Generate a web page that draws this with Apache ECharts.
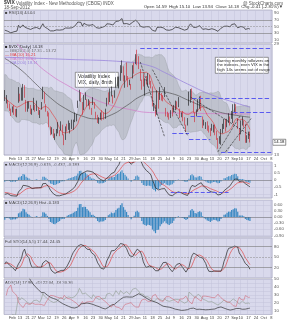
<!DOCTYPE html>
<html><head><meta charset="utf-8">
<script src="https://cdn.jsdelivr.net/npm/echarts@6/dist/echarts.min.js"></script>
<style>html,body{margin:0;padding:0;background:#fff}#c{width:287px;height:320px}</style>
</head><body><div id="c"></div>
<script>
// ---- calendar (trading days shown on the axis) ----
const holidays = ['2012-02-20','2012-04-06','2012-05-28','2012-07-04','2012-09-03'];
const monthNames = ['Jan','Feb','Mar','Apr','May','Jun','Jul','Aug','Sep','Oct','Nov','Dec'];
// ---- warm-up closes (Jan 2012) used only for indicator history ----
const priorCloses = [22.97,22.22,21.48,20.63,21.07,20.69,21.05,20.47,20.91,22.20,20.89,19.87,18.28,19.91,18.76,18.31,18.57,18.53];
// ---- daily VIX candles [open, close, low, high], 30-Jan-2012 .. 18-Sep-2012 ----
const ohlc = [
[19.90,19.44,18.95,20.55],[19.20,19.44,18.60,19.80],[18.90,18.55,17.95,19.10],[18.20,17.98,17.60,18.60],[17.40,17.10,16.95,17.90],
[17.90,17.63,17.40,18.20],[17.80,17.55,17.10,18.40],[17.60,17.00,16.90,17.85],[17.20,17.55,16.80,17.90],[18.90,20.79,18.70,21.00],
[19.80,19.04,18.90,20.00],[19.70,19.54,19.00,20.90],[19.30,21.14,19.00,21.50],[20.80,19.55,19.40,21.30],[18.90,17.78,17.50,19.10],
[18.40,18.19,17.50,18.90],[18.50,18.19,17.90,18.90],[18.00,17.31,17.20,18.40],[17.60,17.31,17.10,17.90],[18.30,18.19,17.70,19.40],
[18.10,17.95,17.50,18.40],[17.70,18.43,17.60,19.00],[17.90,17.26,17.10,18.10],[17.40,17.29,16.70,17.70],[18.20,18.05,17.80,18.80],
[19.30,20.87,19.20,21.06],[20.10,18.80,18.60,20.30],[18.30,17.95,17.50,18.50],[17.30,17.11,16.90,17.60],[17.30,15.64,15.60,17.40],
[15.50,14.80,14.70,15.70],[14.90,15.31,14.80,15.60],[15.20,14.47,14.40,15.40],[14.60,14.47,14.20,14.90],[15.20,15.04,14.60,15.40],
[15.80,15.13,14.90,16.20],[14.90,14.82,14.60,15.30],[15.70,15.57,15.20,16.30],[15.60,14.82,14.70,15.90],[14.50,14.26,13.66,14.80],
[14.40,15.59,14.20,15.70],[15.30,15.47,15.10,16.00],[15.80,15.48,15.30,16.40],[15.40,15.50,14.90,16.10],[15.80,15.64,15.40,16.50],
[15.40,16.12,15.30,16.50],[17.00,16.44,16.20,17.40],[16.90,16.70,16.30,17.20],[18.20,18.81,18.00,19.00],[19.00,20.39,18.90,20.60],
[19.80,19.40,18.80,20.20],[18.60,17.20,17.10,18.80],[17.90,19.55,17.70,19.80],[19.60,19.55,19.10,20.20],[18.80,18.46,18.20,19.20],
[18.80,18.64,18.30,19.20],[18.40,18.36,17.80,19.00],[17.60,17.44,17.10,18.00],[18.60,18.97,18.40,19.50],[18.60,18.10,17.90,18.80],
[17.40,16.82,16.60,17.50],[16.90,16.24,16.10,17.10],[16.40,16.32,16.00,16.80],[16.70,17.15,16.50,17.40],[17.10,16.88,16.40,17.70],
[17.10,16.80,16.50,17.40],[16.70,17.56,16.60,17.90],[18.30,19.16,18.20,19.40],[19.30,18.94,18.50,20.20],[19.70,19.05,18.80,20.80],
[20.30,20.08,19.60,21.10],[19.40,18.83,18.60,19.80],[20.20,19.89,19.40,20.50],[21.00,21.87,20.90,22.60],[21.60,21.97,21.10,22.70],
[21.20,22.27,20.80,22.70],[22.20,24.49,22.00,24.70],[24.00,25.10,23.30,25.60],[24.00,22.01,21.90,24.50],[21.60,22.48,20.90,22.90],
[23.60,22.33,22.10,25.20],[22.00,21.54,21.00,22.80],[21.70,21.76,21.30,22.20],[21.30,21.03,20.60,21.50],[22.50,24.14,22.40,24.70],
[24.00,24.06,23.20,25.20],[25.70,26.66,24.90,26.80],[26.20,26.12,24.70,27.70],[25.60,24.68,24.00,26.40],[23.40,22.16,22.00,24.00],
[21.40,21.72,20.60,22.20],[22.80,21.23,21.10,23.10],[19.90,22.09,19.70,22.40],[22.40,21.68,21.40,22.80],[21.80,22.52,21.10,23.30],
[22.00,21.68,21.40,23.00],[21.50,21.11,20.80,22.00],[20.70,18.32,18.20,21.10],[18.00,18.38,17.60,18.70],[18.30,17.24,16.90,18.40],
[17.20,20.08,17.10,20.50],[19.90,18.11,17.90,20.10],[19.20,20.11,19.10,21.00],[19.60,19.72,19.00,20.10],[19.50,19.45,18.90,19.80],
[20.30,19.71,19.50,21.00],[17.90,17.08,16.90,18.00],[17.20,17.07,16.80,17.50],[17.10,16.66,16.50,17.30],[17.20,17.50,16.70,17.70],
[17.70,17.10,16.90,18.10],[17.70,17.98,17.40,18.40],[17.90,18.72,17.70,19.00],[18.50,17.95,17.80,18.90],[19.20,18.33,18.10,19.50],
[17.80,16.74,16.70,17.90],[16.90,17.11,16.80,17.40],[17.30,16.48,16.30,17.60],[16.50,16.00,15.80,16.80],[15.60,15.45,15.10,15.90],
[16.10,16.27,15.80,16.70],[18.80,18.62,18.30,20.30],[18.90,20.47,18.70,20.70],[20.00,19.34,19.10,20.80],[18.80,17.53,17.40,19.00],
[17.10,16.70,16.20,17.40],[17.20,17.57,16.90,17.80],[17.70,18.93,17.50,19.20],[18.60,18.96,17.90,19.60],[19.00,17.96,17.60,19.70],
[16.60,15.64,15.50,16.90],[16.20,15.95,15.80,16.50],[15.70,15.99,15.40,16.20],[16.20,15.32,15.20,16.30],[15.60,15.28,15.00,15.80],
[15.40,14.74,14.60,15.50],[15.30,15.64,15.20,16.00],[15.40,15.75,15.00,15.90],[15.70,14.85,14.70,15.90],[15.00,14.29,14.20,15.20],
[14.30,13.45,13.30,14.40],[14.10,14.02,13.80,14.60],[14.00,15.11,13.70,15.40],[15.40,15.39,14.90,16.00],[15.60,16.27,15.40,16.60],
[16.40,15.18,15.10,16.60],[16.00,16.35,15.60,16.60],[16.70,16.44,16.10,17.30],[16.50,15.90,15.80,16.90],[16.80,17.46,16.60,17.60],
[17.50,17.47,16.10,18.50],[18.30,17.98,17.40,18.60],[17.90,17.74,17.20,18.50],[16.60,15.60,15.40,16.70],[15.40,14.38,14.10,15.50],
[14.90,16.28,14.80,16.40],[16.00,16.41,15.80,16.90],[16.20,15.80,15.60,16.40],[15.80,14.05,13.90,16.00],[14.20,14.51,13.90,14.70],
[14.70,14.59,14.30,15.10],[14.70,14.18,13.94,15.10]
];
// ---- long moving averages [dayIndex, value] ----
const ma50Pts  = [[0,26.0],[10,24.0],[20,21.6],[30,19.4],[40,17.9],[50,17.0],[60,16.6],[70,17.1],[80,18.3],[90,19.7],[100,20.3],[110,20.0],[120,19.1],[130,18.2],[140,17.5],[150,17.1],[161,16.8]];
const ma100Pts = [[8,29.0],[19,25.5],[30,23.0],[41,21.3],[55,19.6],[69,18.4],[82,17.8],[95,17.4],[120,17.3],[161,17.2]];
const ma200Pts = [[0,26.2],[40,25.8],[80,25.3],[95,24.6],[105,23.4],[120,21.5],[135,19.9],[150,18.8],[161,18.1]];
// ---- drawn annotations: trendlines [[idx,val],[idx,val]] and levels [fromIdx,toIdx,val] ----
const trendLines = [[[89,25.3],[105,14.5]],[[97,23.9],[120,14.7]],[[122,19.5],[161,14.7]],[[140,13.0],[155,17.1]],[[145,13.0],[162,16.7]]];
const levelLines = [[89,175,28.1],[123,175,19.4],[150,175,17.4],[122,130,16.9],[110,121,14.9],[121,135,14.3],[142,175,13.0]];
const macdLevel = [109,147,-0.85];

// ---------- build dates ----------
const dates = [];
{ let t = Date.UTC(2012,0,30); const end = Date.UTC(2012,9,8);
  while (t <= end) { const d = new Date(t); const wd = d.getUTCDay(); const s = d.toISOString().slice(0,10);
    if (wd>0 && wd<6 && !holidays.includes(s)) dates.push(s); t += 86400000; } }
const labelMap = {};
{ let prevWeek = null, prevMonth = null;
  dates.forEach((s,i)=>{ const d = new Date(s+'T00:00:00Z'); const wk = Math.floor((d.getTime()/86400000 + 3)/7);
    if (wk !== prevWeek) { const m = d.getUTCMonth();
      if (i>0) labelMap[i] = (m !== prevMonth) ? monthNames[m] : String(d.getUTCDate());
      prevMonth = m; prevWeek = wk; } }); }
const isLab = (i)=> labelMap[i] !== undefined;

// ---------- indicators ----------
const closes = ohlc.map(r=>r[1]);
const allC = priorCloses.concat(closes);
const P = priorCloses.length, N = ohlc.length;
function sma(a,n){return a.map((v,i)=>{const s=Math.max(0,i-n+1);let t=0;for(let k=s;k<=i;k++)t+=a[k];return t/(i-s+1);});}
function sd(a,n){const m=sma(a,n);return a.map((v,i)=>{const s=Math.max(0,i-n+1);let t=0;for(let k=s;k<=i;k++)t+=(a[k]-m[i])**2;return Math.sqrt(t/(i-s+1));});}
function ema(a,n){const k=2/(n+1);let e=a[0];return a.map((v,i)=>{e=i===0?v:v*k+e*(1-k);return e;});}
const m20=sma(allC,20), s20=sd(allC,20);
const bbU=m20.map((m,i)=>m+2*s20[i]).slice(P), bbL=m20.map((m,i)=>m-2*s20[i]).slice(P);
const ma10=sma(allC,10).slice(P);
const e12=ema(allC,12), e26=ema(allC,26);
const macdAll=e12.map((v,i)=>v-e26[i]); const sigAll=ema(macdAll,9);
const macd=macdAll.slice(P), sig=sigAll.slice(P), hist=macd.map((v,i)=>v-sig[i]);
// RSI(14)
const rsiAll=[null]; {let ag=0,al=0;for(let i=1;i<allC.length;i++){const d=allC[i]-allC[i-1];const g=Math.max(d,0),l=Math.max(-d,0);
 if(i<=14){ag+=g/14;al+=l/14;}else{ag=(ag*13+g)/14;al=(al*13+l)/14;} rsiAll.push(al===0?100:100-100/(1+ag/al));}}
const rsi=rsiAll.slice(P);
// Full stochastic (14,5,5)
const rawK=ohlc.map((r,i)=>{const s=Math.max(0,i-13);let hh=-1e9,ll=1e9;for(let k=s;k<=i;k++){hh=Math.max(hh,ohlc[k][3]);ll=Math.min(ll,ohlc[k][2]);}return hh===ll?50:100*(r[1]-ll)/(hh-ll);});
const stK=sma(rawK,5), stD=sma(stK,5);
// ADX(14)
const pdi=[],mdi=[],adx=[];{let sTR=0,sP=0,sM=0,ax=null,cnt=0,sumDX=0;
 for(let i=0;i<N;i++){ if(i===0){pdi.push(null);mdi.push(null);adx.push(null);continue;}
  const [o,c,l,h]=ohlc[i], pc=ohlc[i-1][1], ph=ohlc[i-1][3], pl=ohlc[i-1][2];
  const tr=Math.max(h-l,Math.abs(h-pc),Math.abs(l-pc)); let up=h-ph, dn=pl-l;
  const pdm=(up>dn&&up>0)?up:0, mdm=(dn>up&&dn>0)?dn:0;
  if(i<=14){sTR+=tr;sP+=pdm;sM+=mdm;}else{sTR=sTR-sTR/14+tr;sP=sP-sP/14+pdm;sM=sM-sM/14+mdm;}
  const p=100*sP/sTR, m=100*sM/sTR; const dx=(p+m)===0?0:100*Math.abs(p-m)/(p+m);
  cnt++; if(cnt<=14){sumDX+=dx;ax=sumDX/cnt;}else{ax=(ax*13+dx)/14;}
  pdi.push(p);mdi.push(m);adx.push(ax);} }

// ---------- chart ----------
const BG='#d9d9ec', GL='#c2c2da', FONT='Liberation Sans';
const L=4,R=15;
const gridsPos=[[10,33],[44,111],[162,36],[200,37],[238,40],[279,36]];
const grids=gridsPos.map(g=>({left:L,right:R,top:g[0],height:g[1],show:true,backgroundColor:BG,borderColor:'#8a8aa0',borderWidth:0.5}));
const xAxes=gridsPos.map((g,gi)=>({type:'category',gridIndex:gi,data:dates,boundaryGap:true,
  axisLine:{show:false},axisTick:{show:false},
  axisLabel:{show:gi===1||gi===5,interval:(i)=>isLab(i),formatter:(v,i)=>labelMap[i]||'',fontSize:4,color:'#444',margin:1.5,fontFamily:FONT},
  splitLine:{show:true,interval:(i)=>isLab(i),lineStyle:{color:GL,width:0.5}}}));
const lab={fontSize:4.3,color:'#555',margin:2,fontFamily:FONT};
const histMax=Math.max(...hist.map(Math.abs))*1.05;
const yAxes=[
 {gridIndex:0,position:'right',min:0,max:100,interval:10,axisLabel:{...lab,formatter:v=>(v%20===10)?v:''},splitLine:{show:false},axisLine:{show:false},axisTick:{show:false}},
 {gridIndex:1,type:'log',logBase:10,position:'right',min:12.7,max:28.9,axisLabel:{...lab,formatter:v=>Math.round(v)},splitLine:{show:true,lineStyle:{color:GL,width:0.5}},axisLine:{show:false},axisTick:{show:false}},
 {gridIndex:2,position:'right',min:-1.25,max:1.25,axisLabel:{...lab,showMinLabel:false,showMaxLabel:false},splitLine:{show:true,lineStyle:{color:GL,width:0.5}},axisLine:{show:false},axisTick:{show:false}},
 {gridIndex:3,position:'right',min:-histMax*20/17,max:histMax,axisLabel:{...lab,showMinLabel:false,showMaxLabel:false,formatter:v=>v.toFixed(2)},splitLine:{show:true,lineStyle:{color:GL,width:0.5}},axisLine:{show:false},axisTick:{show:false}},
 {gridIndex:4,position:'right',min:-10,max:105,interval:10,axisLabel:{...lab,formatter:v=>(v===20||v===50||v===80)?v:''},splitLine:{show:false},axisLine:{show:false},axisTick:{show:false}},
 {gridIndex:5,position:'right',min:5,max:50,interval:5,axisLabel:{...lab,formatter:v=>(v%10===0)?v:''},splitLine:{show:true,lineStyle:{color:GL,width:0.5}},axisLine:{show:false},axisTick:{show:false}}
];
const hline=(v,color,type,w)=>({yAxis:v,lineStyle:{color,type:type||'solid',width:w||0.6}});
const mlBase={silent:true,symbol:'none',label:{show:false}};
const candleData=ohlc.map((r,i)=>{const pc=i>0?ohlc[i-1][1]:r[1];const col=r[1]<pc?'#d01e2a':'#111';
  return {value:r,itemStyle:{color:col,borderColor:col,color0:col,borderColor0:col}};});
const toXY=(pts)=>pts.map(p=>[dates[p[0]],p[1]]);
const lineS=(xi,data,color,w,extra)=>Object.assign({type:'line',xAxisIndex:xi,yAxisIndex:xi,data,symbol:'none',lineStyle:{color,width:w},silent:true},extra||{});

const series=[
 lineS(0,rsi,'#222',0.7,{markLine:{...mlBase,data:[hline(70,'#777'),hline(30,'#777'),hline(50,'#888','dashed',0.5)]}}),
 {type:'custom',xAxisIndex:1,yAxisIndex:1,data:[0],silent:true,z:1,renderItem:(p,api)=>{
   const pts=[];for(let i=0;i<N;i++)pts.push(api.coord([dates[i],bbU[i]]));for(let i=N-1;i>=0;i--)pts.push(api.coord([dates[i],bbL[i]]));
   return {type:'polygon',shape:{points:pts},style:{fill:'rgba(150,158,158,0.38)',stroke:'rgba(130,138,138,0.7)',lineWidth:0.4}};}},
 lineS(1,toXY(ma200Pts),'#9a86dc',0.8,{smooth:true}),
 lineS(1,toXY(ma100Pts),'#d27ac8',0.7,{smooth:true}),
 lineS(1,toXY(ma50Pts),'#555',0.7,{smooth:true}),
 lineS(1,ma10,'#e23a3a',0.6),
 {type:'candlestick',xAxisIndex:1,yAxisIndex:1,data:candleData,barWidth:'80%',itemStyle:{borderWidth:0.6},z:3,silent:true,
  markLine:{...mlBase,data:[
   ...levelLines.map(l=>[{coord:[dates[l[0]],l[2]],lineStyle:{color:'#5a5af0',width:1.1}},{coord:[dates[Math.min(l[1],dates.length-1)],l[2]]}]),
   ...trendLines.map(t=>[{coord:[dates[t[0][0]],t[0][1]],lineStyle:{color:'#222',width:0.6}},{coord:[dates[Math.min(t[1][0],dates.length-1)],t[1][1]]}])
  ]}},
 {type:'bar',xAxisIndex:2,yAxisIndex:2,data:hist,barWidth:'70%',itemStyle:{color:'#3d8cc4'},silent:true,
  markLine:{...mlBase,data:[hline(0,'#666','solid',0.5),[{coord:[dates[macdLevel[0]],macdLevel[2]],lineStyle:{color:'#5a5af0',width:1}},{coord:[dates[macdLevel[1]],macdLevel[2]]}]]}},
 lineS(2,sig,'#e04848',0.7),
 lineS(2,macd,'#222',0.7),
 {type:'bar',xAxisIndex:3,yAxisIndex:3,data:hist,barWidth:'80%',itemStyle:{color:'#3a88c2'},silent:true,
  markLine:{...mlBase,data:[hline(0,'#666','solid',0.5)]}},
 lineS(4,stD,'#e04848',0.7,{markLine:{...mlBase,data:[hline(80,'#777'),hline(20,'#777'),hline(50,'#888','dashed',0.5)]}}),
 lineS(4,stK,'#222',0.7),
 lineS(5,pdi,'#8e9c8e',0.6),
 lineS(5,mdi,'#d06a78',0.6),
 lineS(5,adx,'#333',0.7)
];

const T=(x,y,text,opt)=>({type:'text',left:x,top:y,silent:true,style:Object.assign({text,fontSize:4.5,fill:'#333',fontFamily:FONT},opt||{})});
const TR=(x,y,text,opt)=>({type:'text',right:x,top:y,silent:true,style:Object.assign({text,fontSize:4.5,fill:'#333',fontFamily:FONT},opt||{})});
const graphic=[
 T(4,0.5,'$VIX',{fontWeight:'bold',fontSize:5}),
 T(16,0.8,'Volatility Index - New Methodology (CBOE) INDX',{fill:'#555'}),
 TR(4,0.8,'@ StockCharts.com',{fill:'#555'}),
 T(4,5,'18-Sep-2012',{fill:'#555'}),
 TR(4,5,'Open 14.59  High 15.10  Low 13.94  Close 14.18  Chg -0.41 (-2.81%)\u25BC',{fill:'#333',fontSize:4.4}),
 T(5,10.5,'\u25A0 RSI(14) 44.04',{fontSize:4.2,fill:'#444'}),
 T(5,45,'\u25A0 $VIX (Daily) 14.18',{fontSize:4.2,fill:'#222'}),
 T(5,49,'\u2014 BB(20,2.0) 17.31 - 13.72',{fontSize:4.2,fill:'#666'}),
 T(5,53,'\u2014 MA(10) 15.21',{fontSize:4.2,fill:'#e23a3a'}),
 T(5,57,'\u2014 MA(50) 16.80',{fontSize:4.2,fill:'#d27ac8'}),
 T(5,61,'\u2014 MA(200) 18.11',{fontSize:4.2,fill:'#9a86dc'}),
 {type:'rect',left:75,top:72,shape:{width:43,height:15},style:{fill:'#fff',stroke:'#555',lineWidth:0.6},silent:true},
 T(78,74,'Volatility Index',{fontSize:5,fill:'#222'}),
 T(78,80.5,'VIX, daily, 8mth',{fontSize:5,fill:'#222'}),
 {type:'rect',left:215,top:57,shape:{width:53,height:16},style:{fill:'#fff',stroke:'#555',lineWidth:0.6},silent:true},
 T(217,58.5,'Barring monthly rollovers on',{fontSize:4.2,fill:'#222'}),
 T(217,63.3,'the indexes, even VIX in the',{fontSize:4.2,fill:'#222'}),
 T(217,68,'high 14s seems out of range',{fontSize:4.2,fill:'#222'}),
 T(5,163,'\u25A0 MACD(12,26,9) -0.615, -0.432, -0.183',{fontSize:4.2,fill:'#444'}),
 T(5,201,'\u25A0 MACD(12,26,9) Hist -0.183',{fontSize:4.2,fill:'#444'}),
 T(5,239.5,'Full STO(14,5,5) 17.44, 24.65',{fontSize:4.2,fill:'#444'}),
 T(5,280.5,'ADX(14) 17.90, +DI 22.04, -DI 30.36',{fontSize:4.2,fill:'#444'}),
 {type:'rect',right:1,top:139,shape:{width:13,height:6},style:{fill:'#fff',stroke:'#222',lineWidth:0.5},silent:true},
 TR(2.5,139.8,'14.18',{fontSize:4.3,fill:'#111'})
];

const chart=echarts.init(document.getElementById('c'),null,{renderer:'canvas'});
chart.setOption({animation:false,backgroundColor:'#fff',grid:grids,xAxis:xAxes,yAxis:yAxes,series,graphic});
</script></body></html>
